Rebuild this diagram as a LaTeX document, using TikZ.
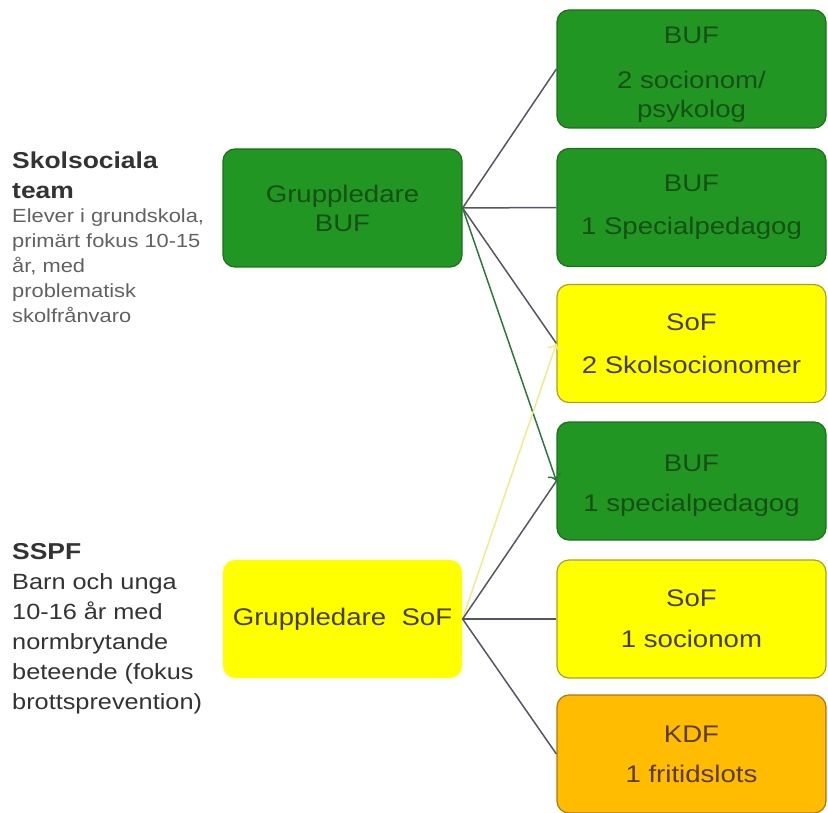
\documentclass[tikz,border=0pt]{standalone}
\usepackage{fontspec}
\setmainfont{Liberation Sans}[FakeStretch=1.15]
\usetikzlibrary{arrows.meta}

\definecolor{bufgreen}{RGB}{34,150,34}
\definecolor{bufedge}{RGB}{30,110,30}
\definecolor{buftext}{RGB}{22,80,22}
\definecolor{sofyellow}{RGB}{255,255,0}
\definecolor{sofedge}{RGB}{170,160,40}
\definecolor{softext}{RGB}{70,60,20}
\definecolor{kdforange}{RGB}{255,188,0}
\definecolor{kdfedge}{RGB}{170,120,20}
\definecolor{kdftext}{RGB}{90,60,10}
\definecolor{linkgray}{RGB}{85,85,100}
\definecolor{linkgreen}{RGB}{45,120,60}
\definecolor{linkyellow}{RGB}{240,235,140}

\begin{document}
\begin{tikzpicture}[x=1pt,y=-1pt,
   box/.style={rounded corners=12pt,minimum width=269pt,minimum height=118pt,inner sep=0pt,
     align=center,font=\fontsize{24}{29}\selectfont,line width=1.2pt},
   lead/.style={box,minimum width=239pt},
   buf/.style={fill=bufgreen,draw=bufedge,text=buftext},
   sof/.style={fill=sofyellow,draw=sofedge,text=softext},
   kdf/.style={fill=kdforange,draw=kdfedge,text=kdftext},
   link/.style={draw=linkgray,line width=1.5pt},
   tip/.style={-{To[scale=1.4]}},
   head/.style={anchor=west,align=left,inner sep=0pt,font=\fontsize{23}{30}\selectfont\bfseries,text=black!80},
   note/.style={anchor=west,align=left,inner sep=0pt,font=\fontsize{19}{25}\selectfont,text=black!62},
   bignote/.style={anchor=west,align=left,inner sep=0pt,font=\fontsize{22}{30}\selectfont,text=black!80}]
   \useasboundingbox (0,0) rectangle (828,813);
   \node[head] (skol) at (12,175) {Skolsociala\\team};
   \node[note] (skoltxt) at (12,266) {Elever i grundskola,\\primärt fokus  10-15\\år, med\\problematisk\\skolfrånvaro};
   \node[head] (sspf) at (12,552) {SSPF};
   \node[bignote] (sspftxt) at (12,644) {Barn och unga\\10-16 år med\\normbrytande\\beteende (fokus\\brottsprevention)};
   \node[lead,buf] (bufL) at (342.5,208) {Gruppledare\\BUF};
   \node[lead,sof,draw=none] (sofL) at (342.5,619) {Gruppledare~~SoF};
   \node[box,buf] (r1) at (691.5,69) {\rule{0pt}{27pt}BUF\\[16pt]2 socionom/\\psykolog};
   \node[box,buf] (r2) at (691.5,207.5) {BUF\\[14pt]1 Specialpedagog};
   \node[box,sof] (r3) at (691.5,343.5) {SoF\\[14pt]2 Skolsocionomer};
   \node[box,buf] (r4) at (691.5,481) {\rule{0pt}{25pt}BUF\\[11pt]1 specialpedagog};
   \node[box,sof] (r5) at (691.5,619) {SoF\\[12pt]1 socionom};
   \node[box,kdf] (r6) at (691.5,754) {KDF\\[11pt]1 fritidslots};
   \draw[link] (bufL.east) -- (r1.west);
   \draw[link] (bufL.east) -- (r2.west);
   \draw[link] (bufL.east) -- (r3.west);
   \draw[link,draw=linkgreen,tip] (bufL.east) -- (r4.west);
   \draw[link,draw=linkyellow,tip] (sofL.east) -- (r3.west);
   \draw[link] (sofL.east) -- (r4.west);
   \draw[link] (sofL.east) -- (r5.west);
   \draw[link] (sofL.east) -- (r6.west);
\end{tikzpicture}
\end{document}
